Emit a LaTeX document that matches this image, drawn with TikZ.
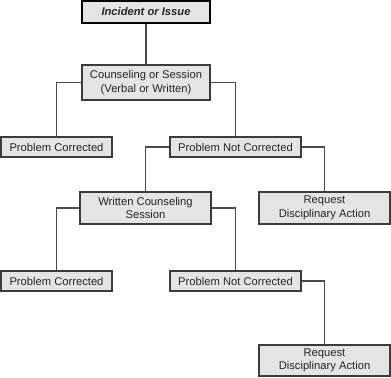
\documentclass[tikz,border=0pt]{standalone}
\usepackage{fontspec}
\setmainfont{Liberation Sans}
\definecolor{boxfill}{HTML}{E4E4E4}
\definecolor{boxline}{HTML}{3C3C3C}
\definecolor{conn}{HTML}{4A4A4A}
\begin{document}
\begin{tikzpicture}[x=0.75pt,y=-0.75pt,
  box/.style={draw=boxline,fill=boxfill,line width=1.1pt,inner sep=0pt,align=center,
    font=\fontsize{8.4}{10.2}\selectfont,text=black!85},
  topbox/.style={box,draw=black,line width=1.8pt,font=\fontsize{8.4}{10.2}\selectfont\bfseries\itshape},
  link/.style={draw=conn,line width=1.1pt}]
\useasboundingbox (0,0) rectangle (391,377);
\def\u{0.75pt}
\node[topbox,minimum width=128*\u,minimum height=22*\u] (top) at (146,12) {Incident or Issue};
\node[box,minimum width=128*\u,minimum height=35*\u] (couns) at (146,82.5) {Counseling or Session\\(Verbal or Written)};
\node[box,minimum width=111*\u,minimum height=20*\u] (pc1) at (56.5,147) {Problem Corrected};
\node[box,minimum width=131*\u,minimum height=20*\u] (pnc1) at (235.5,147) {Problem Not Corrected};
\node[box,minimum width=131*\u,minimum height=32*\u] (wcs) at (145.5,208) {Written Counseling\\Session};
\node[box,minimum width=131*\u,minimum height=32*\u] (req1) at (324.5,208) {Request\\Disciplinary Action};
\node[box,minimum width=111*\u,minimum height=20*\u] (pc2) at (56.5,281) {Problem Corrected};
\node[box,minimum width=131*\u,minimum height=20*\u] (pnc2) at (235.5,281) {Problem Not Corrected};
\node[box,minimum width=131*\u,minimum height=31*\u] (req2) at (324.5,360.5) {Request\\Disciplinary Action};
\begin{scope}[on background layer/.try]
\end{scope}
\draw[link] (top.south) -- (couns.north);
\draw[link] (couns.west) -| (pc1.north);
\draw[link] (couns.east) -| (pnc1.north);
\draw[link] (pnc1.west) -| (wcs.north);
\draw[link] (pnc1.east) -| (req1.north);
\draw[link] (wcs.west) -| (pc2.north);
\draw[link] (wcs.east) -| (pnc2.north);
\draw[link] (pnc2.east) -| (req2.north);
\end{tikzpicture}
\end{document}
